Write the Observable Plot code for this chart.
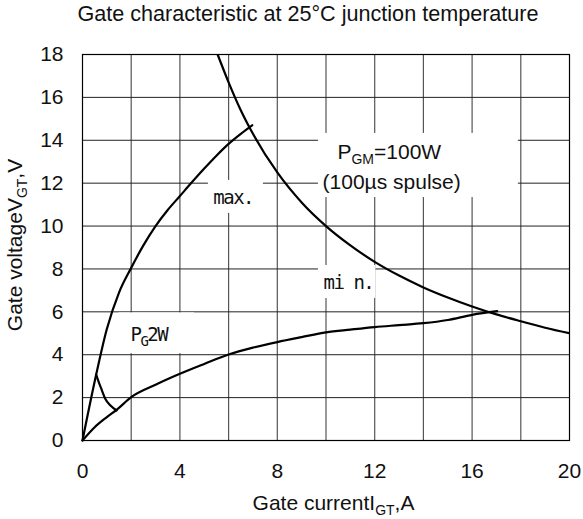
<!DOCTYPE html>
<html><head><meta charset="utf-8">
<script src="https://cdn.jsdelivr.net/npm/d3@7"></script>
<script src="https://cdn.jsdelivr.net/npm/@observablehq/plot@0.6"></script>
<style>
body{margin:0;background:#fff;}
#title{width:583px;box-sizing:border-box;padding-left:33px;text-align:center;font-family:"Liberation Sans",Arial,sans-serif;font-size:21.6px;line-height:28px;height:28px;color:#111;}
</style></head><body>
<div id="title">Gate characteristic at 25°C junction temperature</div>
<div id="chart"></div>
<script>
// axis ticks and grid
const xTicks = [0, 4, 8, 12, 16, 20];
const yTicks = [0, 2, 4, 6, 8, 10, 12, 14, 16, 18];
const xGrid = [2, 4, 6, 8, 10, 12, 14, 16, 18];
const yGrid = [2, 4, 6, 8, 10, 12, 14, 16];

// max. gate characteristic
const maxI = [0, 0.5, 1, 1.5, 2, 2.5, 3, 3.5, 4, 4.5, 5, 5.5, 6, 6.5, 6.97];
const maxV = [0, 2.75, 5.2, 6.9, 8.05, 9.1, 10, 10.75, 11.4, 12.05, 12.68, 13.28, 13.83, 14.3, 14.7];

// min. gate characteristic
const minI = [0, 0.5, 1, 1.4, 2, 3, 4, 5, 6, 7, 8, 9, 10, 11, 12, 13, 14, 15, 16, 17.03];
const minV = [0, 0.62, 1.09, 1.43, 2.02, 2.6, 3.11, 3.57, 4.01, 4.33, 4.59, 4.82, 5.04, 5.17, 5.29, 5.38, 5.47, 5.62, 5.86, 6.03];

// P_GM = 100W peak power curve
const pgmI = [5.55, 6, 6.5, 7, 8, 9, 10, 11, 12, 13, 14, 15, 16, 17, 18, 19, 20];
const pgmV = [18, 16.7, 15.4, 14.3, 12.5, 11.1, 10, 9.1, 8.33, 7.69, 7.14, 6.67, 6.25, 5.88, 5.56, 5.26, 5];

// P_G = 2W average power curve
const pgI = [0.56, 0.66, 0.76, 0.94, 1.15, 1.4];
const pgV = [3.08, 2.75, 2.45, 1.94, 1.63, 1.4];

// annotation boxes (data units)
const boxX1 = [5.17, 9.69, 1.5, 9.69];
const boxX2 = [7.43, 12.05, 4.6, 17.9];
const boxY1 = [10.59, 6.62, 4.05, 11.33];
const boxY2 = [12.13, 8.16, 5.95, 14.32];

// annotation labels
const monoLabels = ["max.", "mi n.", "P_{G}2W"];
const monoX = [5.37, 9.9, 1.97];
const monoY = [11.3, 7.36, 4.94];
const sansLabels = ["P_{GM}=100W", "(100µs spulse)"];
const sansX = [10.47, 9.86];
const sansY = [13.45, 12.05];

const xLabel = "Gate currentI_{GT},A";
const yLabel = "Gate voltageV_{GT},V";

const toPts = (I, V) => I.map((x, i) => ({x, y: V[i]}));
const boxes = boxX1.map((d, i) => ({x1: d, x2: boxX2[i], y1: boxY1[i], y2: boxY2[i]}));
const mono = monoLabels.map((t, i) => ({t, x: monoX[i], y: monoY[i]}));
const sans = sansLabels.map((t, i) => ({t, x: sansX[i], y: sansY[i]}));

const W = 583, H = 491, mL = 82, mR = 14, mT = 26, mB = 79;
const sansFont = "'Liberation Sans', Arial, sans-serif";
const line = {stroke: "#000", strokeWidth: 2.2};

const svg = Plot.plot({
  width: W, height: H,
  marginLeft: mL, marginRight: mR, marginTop: mT, marginBottom: mB,
  x: {domain: [0, 20]},
  y: {domain: [0, 18]},
  style: {fontFamily: sansFont, fontSize: "21px", color: "#111", background: "#fff"},
  marks: [
    Plot.ruleX(xGrid, {stroke: "#555", strokeWidth: 1.2}),
    Plot.ruleY(yGrid, {stroke: "#222", strokeWidth: 1}),
    Plot.rect(boxes, {x1: "x1", x2: "x2", y1: "y1", y2: "y2", fill: "#fff"}),
    Plot.frame({stroke: "#000", strokeWidth: 1.2}),
    Plot.line(toPts(pgmI, pgmV), {x: "x", y: "y", ...line, curve: "monotone-x", clip: true}),
    Plot.line(toPts(maxI, maxV), {x: "x", y: "y", ...line, curve: "monotone-x"}),
    Plot.line(toPts(minI, minV), {x: "x", y: "y", ...line, curve: "monotone-x"}),
    Plot.line(toPts(pgI, pgV), {x: "x", y: "y", ...line, curve: "monotone-x"}),
    Plot.axisX(xTicks, {tickSize: 0, tickPadding: 23, label: null, fontSize: 21}),
    Plot.axisY(yTicks, {tickSize: 0, tickPadding: 19, label: null, fontSize: 21}),
    Plot.text(mono, {x: "x", y: "y", text: "t", textAnchor: "start", fontFamily: "'DejaVu Sans Mono', monospace", fontSize: 19, fill: "#111"}),
    Plot.text(sans, {x: "x", y: "y", text: "t", textAnchor: "start", fontFamily: sansFont, fontSize: 21, fill: "#111"})
  ]
});

const root = d3.select(svg);
root.selectAll("g[font-family*='Mono']").attr("letter-spacing", "-1.5");

// axis labels
root.append("text").attr("x", (mL + W - mR) / 2 + 8).attr("y", H - 9)
  .attr("text-anchor", "middle").attr("font-family", sansFont)
  .attr("font-size", 21).attr("fill", "#111").text(xLabel);
root.append("text").attr("transform", `translate(22,${(mT + H - mB) / 2 - 2}) rotate(-90)`)
  .attr("text-anchor", "middle").attr("font-family", sansFont)
  .attr("font-size", 21).attr("fill", "#111").text(yLabel);

// subscripts
const NS = "http://www.w3.org/2000/svg";
root.selectAll("text").each(function() {
  const s = this.textContent;
  if (!s.includes("_{")) return;
  const fs = parseFloat(this.getAttribute("font-size") || getComputedStyle(this).fontSize) || 21;
  const sub = Math.round(fs * 0.66), shift = Math.round(fs * 0.22);
  while (this.firstChild) this.removeChild(this.firstChild);
  let pending = 0;
  for (const p of s.split(/(_\{[^}]*\})/)) {
    if (!p) continue;
    const t = document.createElementNS(NS, "tspan");
    if (p.startsWith("_{")) {
      t.textContent = p.slice(2, -1);
      t.setAttribute("font-size", sub);
      t.setAttribute("dy", shift);
      pending = -shift;
    } else {
      t.textContent = p;
      if (pending) t.setAttribute("dy", pending);
      pending = 0;
    }
    this.appendChild(t);
  }
});

document.getElementById("chart").appendChild(svg);
</script>
</body></html>
